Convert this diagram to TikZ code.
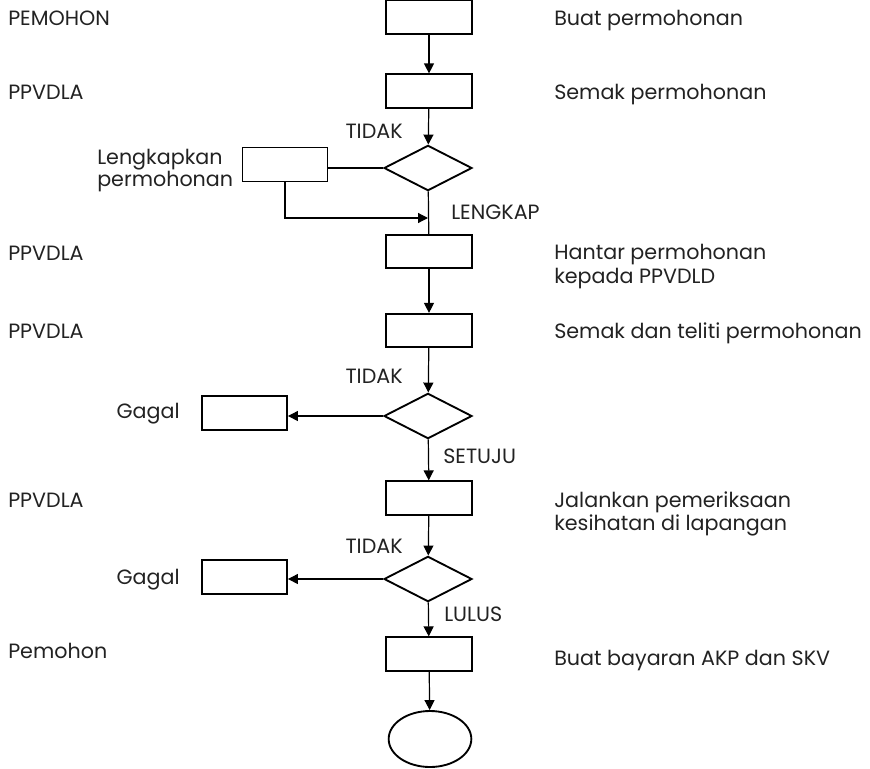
\documentclass[tikz,border=0pt]{standalone}
\usepackage{fontspec}
\setmainfont{Poppins}
\usetikzlibrary{shapes.geometric,arrows.meta}
\definecolor{ink}{HTML}{222222}
\begin{document}
\begin{tikzpicture}[x=0.75pt,y=-0.75pt,
  box/.style={draw,line width=1.4pt,minimum width=64.5pt,minimum height=25pt,inner sep=0pt},
  sbox/.style={draw,line width=1.4pt,minimum width=63.75pt,minimum height=25.5pt,inner sep=0pt},
  dec/.style={draw,diamond,line width=1.4pt,minimum width=66pt,minimum height=34pt,inner sep=0pt},
  term/.style={draw,ellipse,line width=1.4pt,minimum width=62pt,minimum height=42pt,inner sep=0pt},
  txt/.style={inner sep=0pt,text=ink,font=\fontsize{15.5}{18}\selectfont},
  lt/.style={txt,anchor=base west},
  rt/.style={txt,anchor=base east},
  conn/.style={line width=0.9pt},
  arr/.style={conn,-{Triangle[length=7.5pt,width=7.5pt]}}]
\useasboundingbox (0,0) rectangle (870,768);
% main column
\node[box] (b1) at (429,17) {};
\node[box] (b2) at (429,91) {};
\node[dec] (d1) at (428,168) {};
\node[box] (b3) at (429,251.5) {};
\node[box] (b4) at (429,330.5) {};
\node[dec] (d2) at (428,416) {};
\node[box] (b5) at (429,498) {};
\node[dec] (d3) at (428,579) {};
\node[box] (b6) at (429,654) {};
\node[term] (e1) at (430,739) {};
% side boxes
\node[sbox] (lk) at (285,164.5) {};
\node[sbox] (g1) at (244.5,413) {};
\node[sbox] (g2) at (244.5,577) {};
% connectors
\draw[arr] (b1) -- (b2);
\draw[arr] (b2) -- (d1);
\draw[conn] (d1.west) -- (d1.west -| lk.east);
\draw[conn] (d1) -- (b3);
\draw[arr] (lk.south) |- (d1.south |- 0,218);
\draw[arr] (b3) -- (b4);
\draw[arr] (b4) -- (d2);
\draw[arr] (d2.west) -- (d2.west -| g1.east);
\draw[arr] (d2) -- (b5);
\draw[arr] (b5) -- (d3);
\draw[arr] (d3.west) -- (d3.west -| g2.east);
\draw[arr] (d3) -- (b6);
\draw[arr] (b6) -- (e1);
% left labels
\node[lt] (l1) at (8,25) {PEMOHON};
\node[lt] (l2) at (8,99) {PPVDLA};
\node[lt] (l3) at (8,260) {PPVDLA};
\node[lt] (l4) at (8,338) {PPVDLA};
\node[lt] (l5) at (8,507) {PPVDLA};
\node[lt] (l6) at (8,658) {Pemohon};
% right labels
\node[lt] (r1) at (554,25) {Buat permohonan};
\node[lt] (r2) at (554,99) {Semak permohonan};
\node[lt] (r3) at (554,259) {Hantar permohonan};
\node[lt] (r3b) at (554,283) {kepada PPVDLD};
\node[lt] (r4) at (554,338) {Semak dan teliti permohonan};
\node[lt] (r5) at (554,507) {Jalankan pemeriksaan};
\node[lt] (r5b) at (554,530) {kesihatan di lapangan};
\node[lt] (r6) at (554,665) {Buat bayaran AKP dan SKV};
% decision labels
\node[rt] (t1) at (403,138) {TIDAK};
\node[lt] (t2) at (451,219) {LENGKAP};
\node[rt] (t3) at (403,383) {TIDAK};
\node[lt] (t4) at (443,463) {SETUJU};
\node[rt] (t5) at (403,553) {TIDAK};
\node[lt] (t6) at (444,621) {LULUS};
\node[lt] (lka) at (97,164) {Lengkapkan};
\node[lt] (lkb) at (97,186) {permohonan};
\node[rt] (ga) at (180,418) {Gagal};
\node[rt] (gb) at (180,584) {Gagal};
\end{tikzpicture}
\end{document}
